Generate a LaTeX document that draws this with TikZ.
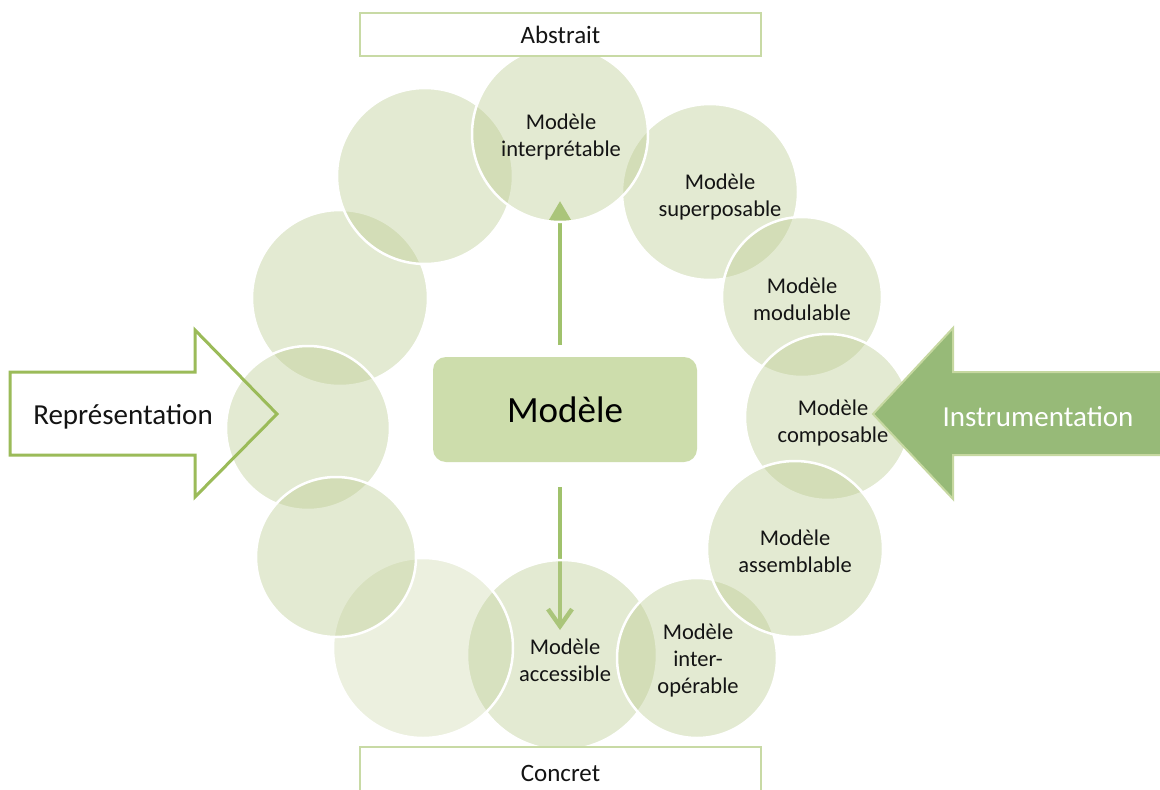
\documentclass[tikz,border=0pt]{standalone}
\usepackage{fontspec}
\setmainfont{Carlito}
\usetikzlibrary{arrows.meta}
\definecolor{ringg}{RGB}{187,203,143}
\definecolor{boxg}{RGB}{205,221,172}
\definecolor{arrg}{RGB}{160,194,108}
\definecolor{instr}{RGB}{151,186,120}
\definecolor{instrb}{RGB}{198,216,160}
\definecolor{repr}{RGB}{155,187,89}
\definecolor{lblline}{RGB}{200,218,165}
\definecolor{txt}{RGB}{20,20,20}
\begin{document}
\begin{tikzpicture}[x=1pt,y=-1pt,
  ring/.style={circle, inner sep=0pt, minimum size=#1, draw=white, line width=2.5pt,
    fill=ringg, fill opacity=0.4, draw opacity=1},
  faintring/.style={ring=#1, fill opacity=0.28},
  ctext/.style={align=center, text=txt, inner sep=0pt, font=\fontsize{22.5}{27}\selectfont},
  vline/.style={draw=arrg, line width=4.5pt},
  lblbox/.style={draw=lblline, line width=1.5pt, fill=white, minimum width=401pt, minimum height=43pt, inner sep=0pt,
    text=txt, font=\fontsize{25}{30}\selectfont}
]
\clip (0,0) rectangle (1160,790);
\fill[white] (0,0) rectangle (1160,790);

% central box
\node[fill=boxg, rounded corners=13pt, minimum width=264pt, minimum height=105pt, inner sep=0pt,
  text=black, font=\fontsize{37}{44}\selectfont] (modele) at (565,409.5) {Modèle};

% vertical arrows (beneath the circles)
\coordinate (uptail) at (560,345);
\coordinate (uptip) at (560,201);
\coordinate (dntail) at (560,487);
\coordinate (dntip) at (560,630);
\draw[vline, -{Triangle[width=22pt,length=20pt]}] (uptail) -- (uptip);
\draw[vline, -{Straight Barb[width=24pt,length=17pt]}] (dntail) -- (dntip);

% ring of circles
\node[ring=176pt] (csup) at (710,192) {};
\node[ring=160pt] (cmod) at (802,297) {};
\node[ring=166pt] (ccomp) at (828,417) {};
\node[ring=190pt] (cacc) at (562,655) {};
\node[ring=160pt] (cinter) at (697,658) {};
\node[ring=176pt] (cass) at (795,549) {};
\node[ring=176pt] (clu) at (340,298) {};
\node[ring=164pt] (clm) at (308,428) {};
\node[faintring=180pt] (cfaint) at (423,648) {};
\node[ring=160pt] (cll) at (336,557) {};
\node[ring=176pt] (ctl) at (425,176) {};
\node[ring=176pt] (cint) at (560,134) {};

% circle texts
\node[ctext] (tint) at (561,136.5) {Modèle\\interprétable};
\node[ctext] (tsup) at (720,196.5) {Modèle\\superposable};
\node[ctext] (tmod) at (802,299) {Modèle\\modulable};
\node[ctext] (tcomp) at (833,423) {Modèle\\composable};
\node[ctext] (tass) at (795,551) {Modèle\\assemblable};
\node[ctext] (tinter) at (698,660) {Modèle\\inter-\\opérable};
\node[ctext] (tacc) at (565,660) {Modèle\\accessible};

% Représentation arrow (outline)
\draw[draw=repr, line width=3pt, line join=miter]
  (10,372) -- (195,372) -- (195,330) -- (277,414) -- (195,497) -- (195,455) -- (10,455) -- cycle;
\node[text=txt, inner sep=0pt, font=\fontsize{29}{34}\selectfont] (trep) at (123,417) {Représentation};

% Instrumentation arrow (filled)
\filldraw[fill=instr, draw=instrb, line width=2pt, line join=miter]
  (1165,372) -- (953,372) -- (953,328) -- (873,414) -- (953,499) -- (953,455) -- (1165,455) -- cycle;
\node[text=white, inner sep=0pt, font=\fontsize{29}{34}\selectfont] (tins) at (1038,417) {Instrumentation};

% Abstrait / Concret boxes
\node[lblbox] (abstrait) at (560.5,34.5) {Abstrait};
\node[lblbox, minimum height=60pt, text depth=0pt] (concretbox) at (560.5,777) {};
\node[text=txt, inner sep=0pt, font=\fontsize{25}{30}\selectfont] (concret) at (560.5,773) {Concret};
\end{tikzpicture}
\end{document}
